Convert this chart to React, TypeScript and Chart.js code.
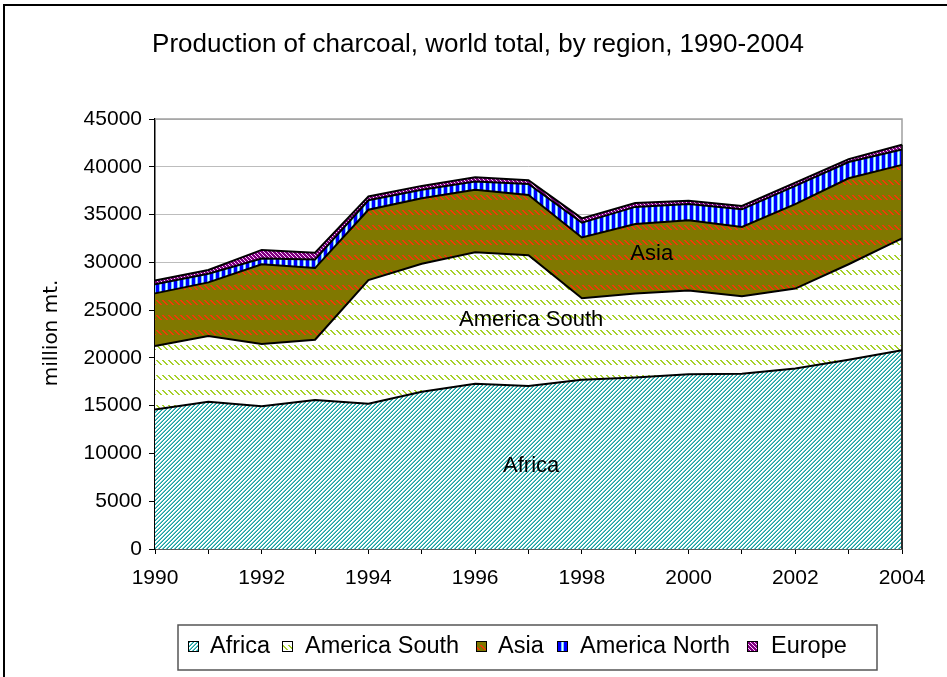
import React, { useEffect, useRef } from 'react';
import { Chart, registerables } from 'chart.js';

Chart.register(...registerables);

const years = ['1990', '1991', '1992', '1993', '1994', '1995', '1996', '1997', '1998', '1999', '2000', '2001', '2002', '2003', '2004'];
const africa = [14600, 15400, 14950, 15600, 15200, 16450, 17300, 17050, 17700, 17950, 18300, 18350, 18900, 19800, 20800];
const americaSouth = [6650, 6900, 6500, 6300, 12950, 13400, 13750, 13700, 8550, 8800, 8750, 8100, 8350, 10000, 11700];
const asia = [5500, 5600, 8350, 7500, 7350, 6850, 6550, 6300, 6350, 7250, 7350, 7250, 8850, 9000, 7700];
const americaNorth = [950, 900, 600, 900, 1000, 900, 850, 1150, 1550, 1800, 1700, 1850, 1900, 1700, 1600];
const europe = [400, 400, 900, 700, 400, 400, 450, 400, 450, 400, 350, 350, 350, 300, 500];
const seriesNames = ['Africa', 'America South', 'Asia', 'America North', 'Europe'];
const yMin = 0;
const yMax = 45000;
const yStep = 5000;
const titleText = 'Production of charcoal, world total, by region, 1990-2004';
const yAxisTitle = 'million mt.';
// in-chart annotation labels: [text, category index, value]
const areaLabels: [string, number, number][] = [
  ['Africa', 7.05, 8700],
  ['America South', 7.05, 23950],
  ['Asia', 9.31, 30900],
];

const FONT = '"Liberation Sans", Arial, sans-serif';

function makePattern(w: number, h: number, paint: (x: number, y: number) => string): CanvasPattern {
  const c = document.createElement('canvas');
  c.width = w;
  c.height = h;
  const g = c.getContext('2d')!;
  for (let y = 0; y < h; y++) {
    for (let x = 0; x < w; x++) {
      g.fillStyle = paint(x, y);
      g.fillRect(x, y, 1, 1);
    }
  }
  return g.createPattern(c, 'repeat')!;
}

function buildPatterns() {
  const africaP = makePattern(4, 4, (x, y) => {
    const k = (x + y) % 4;
    if (k === 3) return '#16a0a0';
    if (k === 2) return '#6cc8c8';
    return '#ffffff';
  });
  const dash = (bg: string, fg: string) =>
    makePattern(6, 15, (x, y) => {
      if (y < 5) {
        const k = (((x - y) % 6) + 6) % 6;
        if (k === 0 || k === 1) return fg;
      }
      return bg;
    });
  const southP = dash('#ffffff', '#a6d12a');
  const asiaP = dash('#807800', '#f23a08');
  const northCols = ['#0000ff', '#0000ff', '#0000ff', '#70c8ff', '#e6ffff', '#70c8ff'];
  const northP = makePattern(6, 4, (x) => northCols[x]);
  const europeP = makePattern(4, 4, (x, y) => (x === y ? '#ffd0ff' : '#800080'));
  return [africaP, southP, asiaP, northP, europeP];
}

export default function App() {
  const ref = useRef<HTMLCanvasElement>(null);

  useEffect(() => {
    const canvas = ref.current!;
    const patterns = buildPatterns();
    const seriesData = [africa, americaSouth, asia, americaNorth, europe];

    const decor = {
      id: 'decor',
      beforeDatasetsDraw(chart: any) {
        const { ctx, chartArea } = chart;
        ctx.save();
        ctx.strokeStyle = '#a0a0a0';
        ctx.lineWidth = 1.5;
        ctx.beginPath();
        ctx.moveTo(chartArea.left, chartArea.top);
        ctx.lineTo(chartArea.right, chartArea.top);
        ctx.lineTo(chartArea.right, chartArea.bottom);
        ctx.stroke();
        ctx.restore();
      },
      afterDatasetsDraw(chart: any) {
        const { ctx, chartArea, scales } = chart;
        const last = years.length - 1;
        let total = 0;
        seriesData.forEach((s) => (total += s[last]));
        ctx.save();
        ctx.strokeStyle = '#000';
        ctx.lineWidth = 1.5;
        ctx.beginPath();
        ctx.moveTo(chartArea.right, scales.y.getPixelForValue(total));
        ctx.lineTo(chartArea.right, chartArea.bottom);
        ctx.stroke();
        ctx.fillStyle = '#000';
        ctx.font = `22px ${FONT}`;
        ctx.textAlign = 'center';
        ctx.textBaseline = 'middle';
        areaLabels.forEach(([t, xi, v]) => {
          ctx.fillText(t, scales.x.getPixelForValue(xi), scales.y.getPixelForValue(v));
        });
        ctx.restore();
      },
      afterDraw(chart: any) {
        const { ctx } = chart;
        ctx.save();
        ctx.strokeStyle = '#000';
        ctx.lineWidth = 2;
        ctx.beginPath();
        ctx.moveTo(4, 677);
        ctx.lineTo(4, 5);
        ctx.lineTo(947, 5);
        ctx.stroke();
        ctx.fillStyle = '#000';
        ctx.font = `26px ${FONT}`;
        ctx.textAlign = 'center';
        ctx.textBaseline = 'alphabetic';
        ctx.fillText(titleText, 478, 52);
        ctx.save();
        ctx.translate(52, 333);
        ctx.rotate(-Math.PI / 2);
        ctx.font = `20px "DejaVu Sans", sans-serif`;
        ctx.textAlign = 'center';
        ctx.textBaseline = 'middle';
        ctx.fillText(yAxisTitle, 0, 0);
        ctx.restore();
        ctx.strokeStyle = '#555';
        ctx.lineWidth = 1.5;
        ctx.strokeRect(178, 625, 699, 45);
        const swX = [188, 282, 476, 557, 747];
        const txX = [210, 305, 498, 580, 771];
        ctx.font = `23.5px ${FONT}`;
        ctx.textAlign = 'left';
        ctx.textBaseline = 'alphabetic';
        seriesNames.forEach((n, i) => {
          ctx.fillStyle = patterns[i];
          ctx.fillRect(swX[i], 641, 10, 10);
          ctx.strokeStyle = '#000';
          ctx.lineWidth = 1;
          ctx.strokeRect(swX[i] + 0.5, 641.5, 10, 10);
          ctx.fillStyle = '#000';
          ctx.fillText(n, txX[i], 653);
        });
        ctx.restore();
      },
    };

    const chart = new Chart(canvas, {
      type: 'line',
      data: {
        labels: years,
        datasets: seriesData.map((d, i) => ({
          label: seriesNames[i],
          data: d,
          backgroundColor: patterns[i],
          borderColor: '#000',
          borderWidth: 2,
          pointRadius: 0,
          tension: 0,
          fill: i === 0 ? 'origin' : '-1',
        })),
      },
      options: {
        responsive: false,
        animation: false,
        devicePixelRatio: 1,
        layout: { padding: { top: 119, right: 45, bottom: 0, left: 0 } },
        plugins: {
          legend: { display: false },
          title: { display: false },
          tooltip: { enabled: false },
          filler: { drawTime: 'beforeDatasetsDraw' },
        },
        scales: {
          x: {
            type: 'category',
            offset: false,
            grid: { display: true, drawOnChartArea: false, drawTicks: true, tickLength: 5, tickColor: '#000' },
            border: { color: '#000', width: 1.5 },
            ticks: {
              autoSkip: false,
              maxRotation: 0,
              padding: 12,
              color: '#000',
              font: { family: FONT, size: 21 },
              callback: (_v: any, idx: number) => (idx % 2 === 0 ? years[idx] : ''),
            },
            afterFit: (s: any) => {
              s.height = 128;
            },
          },
          y: {
            stacked: true,
            min: yMin,
            max: yMax,
            grid: { color: '#bdbdbd', lineWidth: 1, drawTicks: true, tickLength: 6, tickColor: '#000' },
            border: { color: '#000', width: 1.5 },
            ticks: {
              stepSize: yStep,
              padding: 7,
              color: '#000',
              font: { family: FONT, size: 21 },
              callback: (v: any) => String(v),
            },
            afterFit: (s: any) => {
              s.width = 155;
            },
          },
        },
      },
      plugins: [decor],
    });
    return () => chart.destroy();
  }, []);

  return (
    <div style={{ position: 'fixed', left: 0, top: 0, width: 947, height: 677, background: '#fff' }}>
      <canvas ref={ref} width={947} height={677} style={{ width: 947, height: 677, display: 'block' }} />
    </div>
  );
}
